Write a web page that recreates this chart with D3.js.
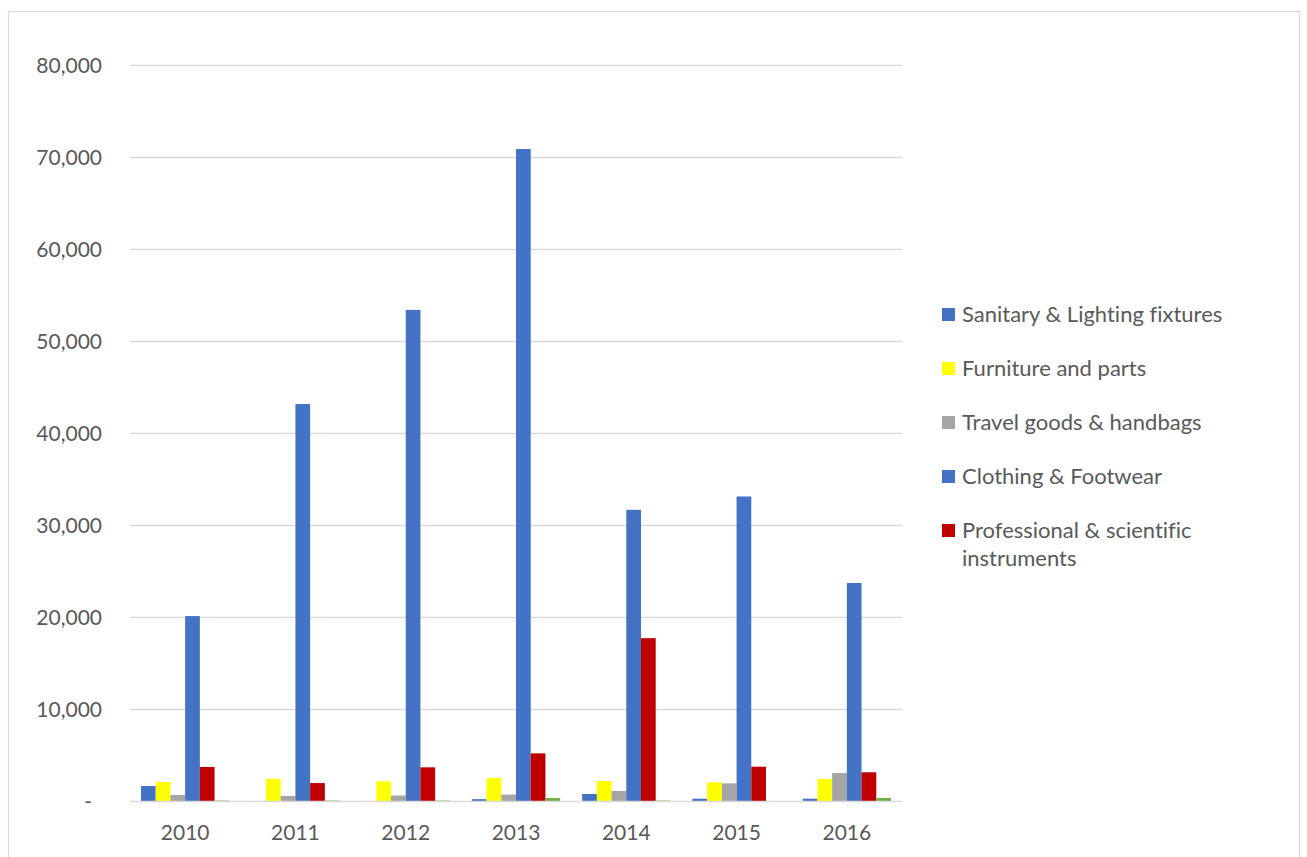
<!DOCTYPE html>
<html>
<head>
<meta charset="utf-8">
<script src="https://cdn.jsdelivr.net/npm/d3@7"></script>
<style>
  body { margin: 0; background: #ffffff; }
  svg { display: block; font-family: Lato, "Liberation Sans", sans-serif; font-variant-ligatures: none; }
</style>
</head>
<body>
<script>
// data
var years = ["2010", "2011", "2012", "2013", "2014", "2015", "2016"];
var seriesNames = ["Sanitary & Lighting fixtures", "Furniture and parts", "Travel goods & handbags",
                   "Clothing & Footwear", "Professional & scientific instruments", "Other"];
var seriesColors = ["#4472C4", "#FFFF00", "#A5A5A5", "#4472C4", "#C00000", "#70AD47"];

var sanitary     = [1630, 0, 0, 200, 760, 250, 250];
var furniture    = [2070, 2400, 2140, 2500, 2170, 2030, 2390];
var travel       = [650, 550, 600, 700, 1090, 1920, 3040];
var clothing     = [20100, 43150, 53380, 70870, 31650, 33100, 23700];
var professional = [3700, 1950, 3660, 5180, 17700, 3730, 3120];
var other        = [50, 50, 50, 320, 50, 0, 330];

var yTicks = [0, 10000, 20000, 30000, 40000, 50000, 60000, 70000, 80000];

var allSeries = [sanitary, furniture, travel, clothing, professional, other];

// #region SETUP
var width = 1307, height = 857;

var svg = d3.select("body")
    .append("svg")
    .attr("width", width)
    .attr("height", height);

// chart frame
svg.append("rect")
    .attr("x", 8.5)
    .attr("y", 11.5)
    .attr("width", 1291)
    .attr("height", 900)
    .attr("fill", "#ffffff")
    .attr("stroke", "#d9d9d9")
    .attr("stroke-width", 1.3);

var plot = { left: 130, right: 902, top: 65, bottom: 801 };

var x0 = d3.scaleBand()
    .domain(years)
    .range([plot.left, plot.right])
    .paddingInner(0.2)
    .paddingOuter(0.1);

var y = d3.scaleLinear()
    .domain([0, 80000])
    .range([plot.bottom, plot.top]);
// #endregion

// #region GRID + AXES
svg.append("g")
    .attr("id", "grid")
    .selectAll("line")
    .data(yTicks.slice(1))
    .enter()
    .append("line")
        .attr("x1", plot.left)
        .attr("x2", plot.right)
        .attr("y1", d => Math.round(y(d)) + 0.5)
        .attr("y2", d => Math.round(y(d)) + 0.5)
        .attr("stroke", "#d9d9d9")
        .attr("stroke-width", 1.3);

svg.append("g")
    .attr("id", "y-labels")
    .selectAll("text")
    .data(yTicks)
    .enter()
    .append("text")
        .text(d => d === 0 ? "-" : d3.format(",")(d))
        .attr("x", d => d === 0 ? 92 : 102)
        .attr("y", d => y(d) + 7.5)
        .attr("text-anchor", "end")
        .attr("fill", "#595959")
        .style("font-size", "21px");

svg.append("g")
    .attr("id", "x-labels")
    .selectAll("text")
    .data(years)
    .enter()
    .append("text")
        .text(d => d)
        .attr("x", d => x0(d) + x0.bandwidth() / 2)
        .attr("y", 840)
        .attr("text-anchor", "middle")
        .attr("fill", "#595959")
        .style("font-size", "21px");
// #endregion

// #region BARS
var x1 = d3.scaleBand()
    .domain(d3.range(seriesNames.length))
    .range([0, x0.bandwidth()]);

var groups = svg.append("g")
    .attr("id", "bars")
    .selectAll("g")
    .data(years)
    .enter()
    .append("g")
        .attr("transform", d => "translate(" + x0(d) + ",0)");

groups.selectAll("rect")
    .data((d, i) => allSeries.map((s, k) => ({ k: k, v: s[i] })))
    .enter()
    .append("rect")
        .attr("x", d => x1(d.k))
        .attr("width", x1.bandwidth())
        .attr("y", d => y(d.v))
        .attr("height", d => plot.bottom - y(d.v))
        .attr("fill", d => seriesColors[d.k]);

// x axis line
svg.append("line")
    .attr("x1", plot.left)
    .attr("x2", plot.right)
    .attr("y1", plot.bottom + 0.5)
    .attr("y2", plot.bottom + 0.5)
    .attr("stroke", "#d9d9d9")
    .attr("stroke-width", 1.5);
// #endregion

// #region LEGEND
var legendRows = [
    { i: 0, lines: ["Sanitary & Lighting fixtures"] },
    { i: 1, lines: ["Furniture and parts"] },
    { i: 2, lines: ["Travel goods & handbags"] },
    { i: 3, lines: ["Clothing & Footwear"] },
    { i: 4, lines: ["Professional & scientific", "instruments"] }
];

var legend = svg.append("g")
    .attr("id", "legend");

var items = legend.selectAll("g")
    .data(legendRows)
    .enter()
    .append("g")
        .attr("transform", (d, i) => "translate(942," + (314 + i * 54) + ")");

items.append("rect")
    .attr("x", 0)
    .attr("y", -6)
    .attr("width", 13)
    .attr("height", 13)
    .attr("fill", d => seriesColors[d.i]);

items.append("text")
    .attr("x", 20)
    .attr("y", 8)
    .attr("fill", "#595959")
    .style("font-size", "22px")
    .selectAll("tspan")
    .data(d => d.lines)
    .enter()
    .append("tspan")
        .attr("x", 20)
        .attr("dy", (d, i) => i === 0 ? 0 : 28)
        .text(d => d);
// #endregion
</script>
</body>
</html>
